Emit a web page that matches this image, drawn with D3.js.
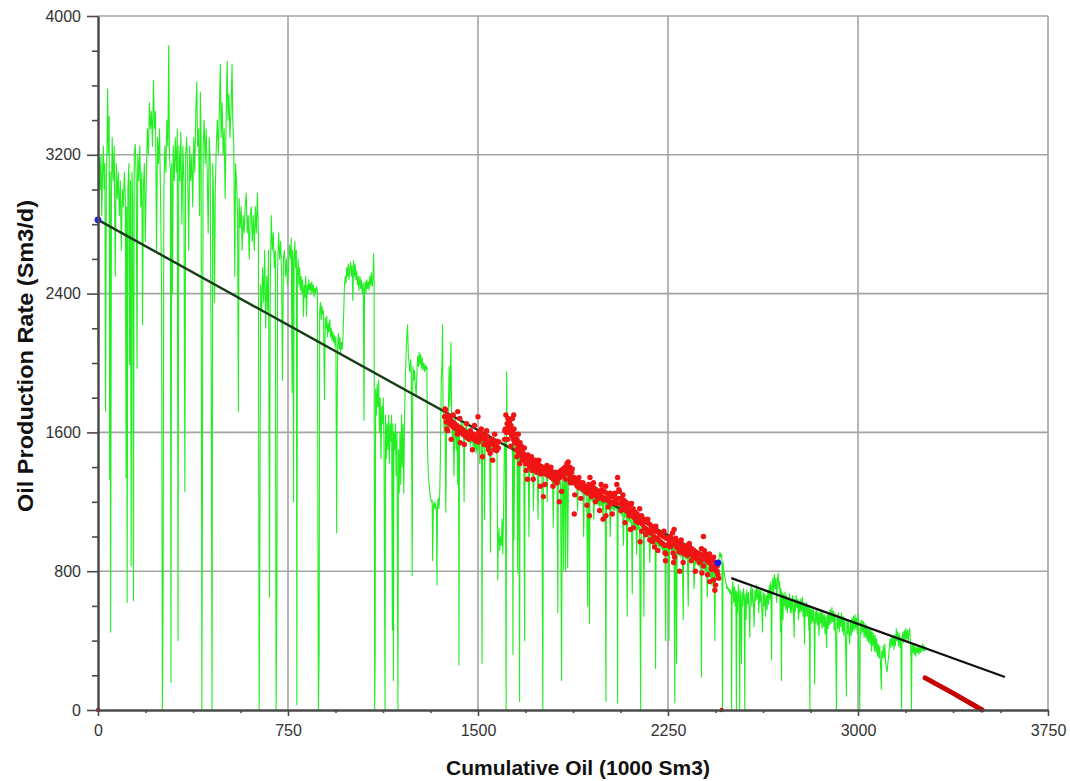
<!DOCTYPE html>
<html>
<head>
<meta charset="utf-8">
<script src="https://cdn.jsdelivr.net/npm/d3@7"></script>
<style>
  body { margin: 0; background: #ffffff; }
  svg { display: block; font-family: "Liberation Sans", Arial, sans-serif; }
</style>
</head>
<body>
<svg id="chart" width="1070" height="781"></svg>
<script>
// ---- axis ticks ----
const xTicks = [0, 750, 1500, 2250, 3000, 3750];
const yTicks = [0, 800, 1600, 2400, 3200, 4000];
const xTitle = "Cumulative Oil (1000 Sm3)";
const yTitle = "Oil Production Rate (Sm3/d)";

// ---- production history: [cumulative oil (1000 Sm3), oil rate (Sm3/d)] ----
const historyEarly = [
  [0,2100],[3,2950],[6,3180],[9,3000],[12,3200],[15,2850],[18,3100],[21,3250],[24,3000],[27,3150],[30,1720],[33,3050],[36,3300],[38,3580],[41,3200],[44,3420],[46,1330],[48,3100],[50,450],[53,2950],[56,3300],[60,3050],[64,3250],[68,2500],[72,3150],[76,2950],[80,3100],[84,2850],[88,3050],[92,2650],[96,3000],[100,2900],[104,3100],[108,2950],[111,1340],[113,2900],[115,620],[118,3000],[122,3150],[125,1990],[128,3050],[131,830],[134,3100],[137,2950],[140,630],[143,3200],[147,3260],[151,3050],[154,1970],[157,3200],[161,3050],[165,3250],[169,2900],[173,3100],[176,2220],[179,3000],[183,3150],[187,2700],[191,3100],[195,3350],[199,3200],[203,3500],[207,3350],[211,3450],[215,3250],[219,3630],[223,3350],[227,3450],[231,2650],[235,3300],[239,3150],[243,3350],[247,2950],[251,2420],[254,0],[257,690],[260,3000],[264,3250],[268,3100],[272,3400],[276,3250],[279,3830],[282,3200],[286,3100],[288,160],[291,3150],[294,2400],[297,3250],[301,3050],[305,3300],[309,3100],[313,3350],[316,400],[319,3250],[323,3050],[327,3330],[331,2800],[335,3250],[339,3050],[343,1260],[346,3200],[350,3300],[354,3100],[358,2650],[362,3250],[366,3050],[370,3200],[374,2900],[378,3300],[382,3100],[386,3450],[390,3620],[393,3250],[397,3350],[401,2850],[404,3560],[407,3300],[410,0],[412,1130],[415,3250],[419,3400],[423,3150],[427,3350],[431,3100],[435,2750],[439,3300],[443,3150],[447,1840],[450,0],[453,3150],[457,2900],[460,2350],[463,3000],[467,3250],[471,3400],[475,3200],[479,3450],[483,3720],[486,3300],[490,3500],[494,3200],[498,3350],[502,2950],[506,3420],[510,3740],[513,3400],[517,3550],[521,3300],[525,3450],[529,3720],[532,3400],[536,3250],[540,2500],[543,3150],[547,3050],[551,2850],[554,1720],[557,2950],[561,2780],[565,2900],[569,2650],[573,2850],[577,2750],[581,2900],[585,2980],[589,2750],[593,2850],[597,2600],[601,2850],[605,2900],[609,2700],[613,2850],[617,2650],[621,2900],[625,2750],[629,2980],[633,2750],[636,0],[639,970],[642,2450],[646,2300],[650,2550],[654,2350],[658,2650],[662,2200],[666,2500],[670,2300],[673,2650],[677,650],[680,2450],[684,2850],[688,2650],[692,2750],[696,2550],[700,2650],[703,0],[706,650],[709,2550],[713,2750],[717,2600],[721,2700],[725,2500],[728,1900],[732,2600],[736,2650],[740,2500],[744,2600],[748,2450]
];
const historyMid = [
  [752,2550],[756,2680],[760,2600],[763,2720],[766,1830],[768,2650],[770,2560],[772,1200],[774,2600],[777,2700],[780,2550],[783,2650],[785,30],[787,2500],[790,2600],[793,2450],[796,2550],[799,2420],[802,2500],[805,2400],[808,2480],[811,2270],[814,2450],[817,2380],[820,2500],[823,2270],[826,2450],[829,2400],[832,2480],[835,2420],[838,2460],[841,2400],[844,2470],[847,2410],[850,2450],[853,2380],[856,2430],[859,2400],[862,2440],[866,2420],[870,0],[873,340],[875,2300],[878,2350],[881,2250],[884,2330],[887,2280],[890,2300],[894,1790],[897,2260],[900,2200],[903,2270],[906,2150],[909,2230],[912,2180],[915,2250],[918,2150],[921,2200],[924,2130],[927,2180],[930,2120],[933,2160],[936,2100],[939,2150],[942,1020],[944,1710],[946,2100],[949,2170],[952,2080],[955,2150],[958,2060],[961,2120],[964,2080],[967,2150],[970,2300],[973,2450],[976,2500],[979,2460],[982,2550],[985,2500],[988,2570],[991,2480],[994,2540],[997,2580],[1000,2500],[1003,2560],[1006,2360],[1009,2590],[1012,2500],[1015,2570],[1018,2480],[1021,2530],[1024,2450],[1027,2500],[1030,2420],[1034,2500],[1037,2430],[1040,2480],[1043,2400],[1047,2460],[1050,1670],[1052,2420],[1055,2470],[1058,2400],[1061,2480],[1064,2430],[1067,2470],[1070,2420],[1073,2500],[1076,2450],[1079,2520],[1082,2440],[1085,2480],[1088,2630],[1090,2450],[1092,0],[1094,300],[1096,1850],[1099,1700],[1102,1880],[1105,1750],[1108,1900],[1111,1600],[1114,1800],[1117,1450],[1120,1750],[1123,1650],[1126,1800],[1129,1550],[1133,0],[1135,1700],[1138,1450],[1141,1650],[1144,1500],[1147,1700],[1150,1420],[1153,1650],[1156,1550],[1159,1700],[1162,460],[1164,1650],[1166,170],[1168,1600],[1171,1500],[1174,1650],[1177,1350],[1180,1600],[1184,0],[1186,1500],[1189,1250],[1192,1600],[1195,1300],[1198,1700],[1201,1400],[1204,1650],[1207,1250],[1210,1700],[1213,1900],[1216,2050],[1219,2150],[1222,2220],[1225,2050],[1228,2000],[1231,1950],[1234,2020],[1237,1940],[1240,775],[1243,1980],[1246,1900],[1249,1960],[1252,1880],[1256,1810],[1259,1950],[1262,2040],[1265,1980],[1268,2060],[1271,1990],[1274,2050],[1277,1970],[1280,2030],[1283,1960],[1286,2000],[1289,1950],[1292,1990],[1295,1960],[1298,1980],[1301,1500],[1304,1350],[1307,1300],[1310,1250],[1313,1220],[1316,1200],[1319,1210],[1321,860],[1324,1180],[1327,1200],[1330,1160],[1333,1190],[1336,1150],[1338,720],[1340,1180],[1343,1220],[1346,1160],[1349,1250],[1352,1500],[1355,1900],[1358,2000],[1360,2220],[1362,1750],[1364,1700],[1367,1600],[1370,1680],[1373,1140],[1376,1650],[1379,1700],[1382,1620],[1386,1980],[1389,1750],[1393,2120],[1396,1700],[1399,1550],[1402,1680],[1405,1350],[1408,1600],[1411,1680],[1414,1500],[1417,1650],[1420,1300],[1423,1650],[1425,260],[1427,1640],[1430,1600],[1433,1660],[1436,1580],[1440,1650],[1443,1600],[1445,1200],[1448,1630],[1451,1580],[1454,1640],[1457,1560],[1460,1620],[1463,1550],[1466,1600],[1469,1520],[1472,1590],[1475,1540],[1478,1600],[1481,1520],[1484,1580],[1487,1500],[1490,1560],[1493,1480],[1496,1550],[1499,1500]
];
const historyFit = [
  [1502,1610],[1505,1570],[1507,1420],[1509,1600],[1512,1560],[1514,1610],[1516,270],[1518,1580],[1521,1540],[1524,1590],[1526,1100],[1528,1560],[1531,1520],[1534,1570],[1537,1530],[1540,1560],[1543,1510],[1546,1550],[1549,910],[1551,1540],[1554,1500],[1557,1550],[1560,1510],[1563,1540],[1566,1490],[1569,1530],[1572,1480],[1575,1510],[1578,750],[1580,950],[1583,1050],[1586,920],[1589,1000],[1592,950],[1595,1100],[1598,900],[1601,1150],[1604,1500],[1606,1580],[1608,1540],[1611,0],[1613,1950],[1615,1650],[1618,1620],[1621,1670],[1624,1600],[1627,1640],[1630,1580],[1633,1620],[1636,1560],[1638,320],[1640,1560],[1642,980],[1645,1540],[1648,1580],[1651,1520],[1654,1560],[1657,790],[1659,1510],[1662,1480],[1664,50],[1666,1500],[1669,1470],[1672,1490],[1675,1450],[1678,1480],[1681,1440],[1684,400],[1686,1460],[1689,1430],[1692,1470],[1695,1420],[1698,1450],[1701,1000],[1704,1440],[1707,1410],[1710,1450],[1713,1400],[1716,1430],[1719,1150],[1722,1420],[1725,1390],[1728,1430],[1731,1380],[1734,1420],[1737,1100],[1740,1410],[1743,1370],[1746,1410],[1749,1360],[1752,1400],[1756,0],[1758,1390],[1761,1350],[1764,1400],[1767,1340],[1770,1390],[1773,1200],[1776,1380],[1779,1340],[1782,1390],[1785,1330],[1788,1370],[1791,1320],[1794,1360],[1797,1050],[1800,1350],[1803,1320],[1806,1360],[1809,1310],[1812,1350],[1815,560],[1817,1340],[1820,1300],[1823,1350],[1826,1290],[1830,170],[1832,1330],[1835,1300],[1838,810],[1840,1340],[1843,1380],[1846,800],[1848,1360],[1851,1400],[1854,820],[1857,1380],[1860,1420],[1863,1350],[1866,1390],[1869,1320],[1872,1360],[1875,1300],[1878,1340],[1881,1290],[1884,1330],[1887,1280],[1890,1320],[1893,1150],[1896,1310],[1899,1270],[1902,1310],[1905,1260],[1908,1300],[1911,1250],[1914,1290],[1917,1000],[1920,1280],[1923,1240],[1926,1280],[1929,1230],[1933,600],[1935,1270],[1938,1220],[1940,500],[1942,1260],[1945,1210],[1948,1250],[1951,1200],[1954,1250],[1957,1100],[1960,1240],[1963,1200],[1966,1240],[1969,1190],[1972,1230],[1975,1180],[1978,1220],[1981,1170],[1984,1210],[1987,1180],[1990,1230],[1993,1100],[1996,1220],[1999,1190],[2002,1230],[2005,50],[2007,1220],[2010,1180],[2013,1230],[2016,1170],[2019,1210],[2022,1000],[2025,1210],[2028,1160],[2031,1200],[2034,1150],[2037,1190],[2040,1150],[2043,1220],[2046,1160],[2049,1250],[2051,40],[2053,1180],[2056,1140],[2059,1190],[2062,1130],[2065,1170],[2068,1120],[2071,1160],[2074,950],[2077,1150],[2080,1110],[2083,1150],[2086,1100],[2089,540],[2091,1140],[2094,1090],[2097,1130],[2100,1080],[2103,1120],[2106,1070],[2109,670],[2111,1110],[2114,1060],[2117,1100],[2120,1050],[2123,1090],[2126,900],[2129,1080],[2132,1040],[2135,1080],[2138,1030],[2142,0],[2144,1070],[2147,1030],[2150,1070],[2153,1020],[2155,540],[2157,1060],[2160,1010],[2163,1050],[2166,1000],[2169,1040],[2172,990],[2175,1030],[2178,850],[2181,1020],[2184,980],[2187,1020],[2190,970],[2193,1010],[2196,960],[2199,1000],[2201,240],[2203,990],[2206,950],[2209,990],[2212,940],[2214,980],[2217,940],[2220,980],[2223,930],[2226,970],[2229,920],[2232,960],[2235,910],[2238,950],[2241,400],[2243,950],[2246,910],[2249,950],
  [2252,970],[2254,400],[2256,960],[2259,930],[2262,970],[2265,920],[2268,960],[2271,910],[2274,950],[2277,40],[2279,950],[2282,900],[2284,270],[2286,940],[2289,900],[2292,940],[2295,890],[2298,930],[2301,880],[2304,930],[2307,880],[2310,520],[2312,920],[2315,880],[2318,920],[2321,870],[2324,910],[2327,860],[2330,600],[2332,900],[2335,860],[2338,910],[2341,860],[2344,900],[2347,850],[2350,890],[2353,700],[2356,880],[2359,840],[2362,890],[2365,840],[2368,880],[2371,830],[2374,870],[2377,820],[2380,860],[2382,190],[2384,860],[2387,820],[2390,870],[2393,810],[2396,860],[2399,800],[2402,850],[2405,650],[2408,840],[2411,790],[2414,830],[2417,760],[2420,820],[2423,720],[2426,800],[2429,700],[2432,820],[2435,400],[2437,820],[2440,850],[2443,830],[2446,860],[2449,850],[2452,880],[2455,910],[2458,880],[2461,900],[2463,860],[2465,0],[2467,850],[2470,800],[2473,780],[2476,750],[2479,730],[2482,700],[2485,710],[2488,690],[2491,700],[2494,670],[2497,690],[2500,660]
];
const historyLate = [
  [2501,0],[2503,690],[2506,740],[2509,620],[2512,710],[2515,600],[2518,690],[2520,0],[2522,680],[2525,560],[2528,720],[2531,640],[2533,0],[2535,690],[2538,610],[2540,270],[2542,680],[2545,600],[2548,700],[2551,630],[2553,0],[2555,670],[2558,520],[2561,690],[2564,610],[2567,680],[2570,590],[2573,420],[2575,660],[2578,720],[2581,600],[2584,700],[2587,620],[2590,480],[2593,690],[2596,630],[2599,720],[2602,640],[2605,700],[2608,560],[2611,690],[2614,620],[2617,700],[2620,600],[2623,450],[2626,680],[2629,600],[2632,670],[2635,540],[2638,660],[2641,580],[2644,690],[2647,610],[2650,720],[2653,640],[2656,740],[2659,290],[2661,700],[2664,760],[2667,680],[2670,780],[2673,700],[2676,760],[2679,620],[2682,750],[2685,790],[2688,700],[2691,740],[2694,450],[2696,700],[2698,170],[2700,680],[2702,620],[2704,520],[2706,670],[2709,600],[2712,680],[2715,580],[2718,660],[2721,560],[2724,650],[2727,590],[2730,670],[2733,560],[2736,640],[2739,560],[2742,660],[2745,590],[2748,420],[2750,640],[2753,570],[2756,660],[2759,590],[2762,640],[2765,520],[2768,630],[2771,560],[2774,640],[2777,570],[2780,650],[2783,540],[2786,620],[2789,380],[2791,610],[2794,540],[2797,620],[2800,540],[2803,600],[2806,460],[2808,590],[2810,0],[2812,580],[2815,500],[2818,590],[2821,510],[2824,580],[2827,480],[2829,150],[2831,570],[2834,500],[2837,580],[2840,490],[2843,560],[2846,430],[2849,560],[2852,500],[2855,580],[2858,470],[2861,560],[2864,480],[2867,550],[2870,440],[2873,540],[2876,360],[2879,550],[2882,470],[2885,560],[2888,490],[2891,580],[2894,500],[2897,590],[2900,510],[2903,570],[2906,460],[2909,560],[2912,400],[2915,0],[2917,550],[2920,470],[2923,560],[2926,450],[2929,540],[2932,480],[2935,560],[2938,450],[2941,540],[2944,430],[2947,530],[2950,440],[2952,300],[2954,80],[2956,520],[2959,440],[2962,520],[2965,420],[2967,380],[2970,510],[2973,430],[2976,530],[2979,450],[2982,540],[2985,460],[2988,550],[2991,470],[2994,530],[2997,440],[3000,550],[3003,430],[3007,0],[3009,510],[3012,440],[3015,520],[3018,450],[3021,510],[3024,420],[3027,500],[3030,420],[3033,490],[3036,400],[3039,480],[3042,390],[3045,470],[3048,380],[3051,470],[3053,340],[3056,450],[3059,370],[3062,440],[3065,340],[3068,430],[3071,330],[3074,410],[3077,310],[3080,380],[3083,300],[3086,370],[3089,260],[3092,120],[3094,340],[3097,300],[3100,370],[3103,300],[3106,380],[3109,280],[3112,240],[3115,220],[3118,270],[3121,310],[3124,370],[3127,410],[3130,360],[3133,430],[3136,370],[3139,420],[3142,350],[3145,430],[3148,370],[3151,470],[3154,400],[3157,450],[3160,370],[3163,440],[3166,360],[3169,420],[3172,10],[3174,410],[3177,450],[3180,390],[3183,460],[3186,400],[3189,470],[3192,410],[3195,460],[3198,390],[3201,450],[3204,470],[3207,400],[3209,300],[3211,0],[3213,380],[3216,330],[3219,380],[3222,320],[3225,370],[3228,310],[3231,360],[3234,330],[3237,370],[3240,320],[3243,360],[3246,330],[3249,370],[3252,340],[3255,380],[3258,340],[3261,370],[3264,340],[3268,360],[3271,350]
];

// ---- points selected for the decline fit ----
const fitPoints = [
  [1368,1690],[1372,1730],[1375,1660],[1378,1700],[1380,1610],[1384,1680],[1388,1650],[1392,1670],[1396,1640],[1400,1660],[1404,1630],[1408,1650],[1412,1620],[1416,1640],[1420,1720],[1423,1610],[1426,1630],[1430,1540],[1433,1600],[1436,1620],[1440,1590],[1444,1610],[1448,1580],[1452,1600],[1456,1570],[1460,1590],[1464,1560],[1468,1580],[1472,1600],[1476,1570],[1480,1590],[1484,1560],[1488,1580],[1492,1550],[1496,1570],[1500,1690],[1503,1600],[1506,1580],[1510,1560],[1513,1620],[1516,1590],[1520,1570],[1524,1530],[1528,1560],[1532,1540],[1536,1580],[1540,1520],[1544,1550],[1548,1480],[1552,1540],[1556,1560],[1560,1530],[1564,1500],[1568,1540],[1572,1520],[1576,1550],[1580,1510],
  [1605,1560],[1608,1620],[1612,1600],[1615,1650],[1618,1680],[1621,1620],[1624,1660],[1627,1600],[1630,1640],[1633,1580],[1636,1680],[1639,1560],[1642,1620],[1645,1540],[1648,1590],[1651,1500],[1654,1560],[1657,1530],[1660,1480],[1663,1510],[1666,1540],[1669,1470],[1672,1500],[1675,1440],[1678,1480],[1681,1450],[1685,1470],[1688,1420],[1692,1460],[1695,1330],[1698,1440],[1702,1410],[1706,1450],[1710,1420],[1714,1380],[1718,1430],[1722,1400],[1726,1440],[1730,1390],[1734,1420],[1738,1380],[1742,1410],[1746,1290],[1750,1400],[1754,1370],[1758,1230],[1762,1390],[1766,1360],[1770,1400],
  [1774,1370],[1778,1390],[1782,1350],[1786,1380],[1790,1340],[1794,1370],[1798,1330],[1802,1360],[1806,1320],[1810,1350],[1814,1330],[1818,1370],[1821,1200],[1824,1340],[1828,1380],[1832,1350],[1836,1390],[1840,1360],[1844,1400],[1848,1370],[1851,1420],[1854,1390],[1858,1360],[1862,1400],[1866,1340],[1870,1370],[1874,1310],[1878,1340],[1880,1130],[1884,1310],[1888,1330],[1892,1290],[1896,1320],[1900,1280],
  [1904,1310],[1908,1280],[1912,1300],[1916,1270],[1920,1290],[1924,1260],[1928,1290],[1932,1250],[1936,1280],[1940,1120],[1942,1340],[1946,1260],[1950,1290],[1954,1250],[1958,1280],[1962,1240],[1966,1270],[1970,1230],[1974,1260],[1978,1220],[1982,1250],[1986,1300],[1990,1230],[1994,1100],[1998,1260],[2002,1220],[2005,1120],[2008,1250],[2012,1210],[2016,1240],[2020,1200],[2024,1230],[2028,1190],[2032,1230],[2036,1200],[2040,1250],[2044,1210],[2048,1300],[2051,1340],[2054,1220],[2058,1260],[2062,1190],
  [2066,1220],[2070,1180],[2074,1210],[2078,1160],[2082,1200],[2086,1150],[2090,1190],[2094,1140],[2098,1180],[2102,1040],[2104,1150],[2108,1120],[2112,1160],[2116,1110],[2120,1140],[2124,1090],[2128,1130],[2132,1080],[2136,1110],[2140,970],[2142,1080],[2146,1120],[2150,1070],[2154,1100],[2158,1050],[2162,1090],[2166,1040],[2170,1080],[2174,1030],[2178,1070],[2182,1020],[2186,1060],[2190,970],[2194,1040],[2197,940],[2200,1030],[2204,990],[2208,1030],[2212,980],[2216,1020],[2220,970],[2224,1010],[2228,960],[2232,1000],[2236,950],[2238,905],[2240,860],[2243,990],[2246,950],
  [2250,990],[2254,960],[2258,1000],[2262,950],[2266,980],[2270,905],[2272,850],[2274,1040],[2277,960],[2280,990],[2284,940],[2288,970],[2292,930],[2296,800],[2299,960],[2303,920],[2307,950],[2309,905],[2312,930],[2316,900],[2320,940],[2324,910],[2328,950],[2332,920],[2336,940],[2340,900],[2344,930],[2348,890],[2352,920],[2356,880],[2360,910],[2364,870],[2368,900],[2372,870],[2376,900],[2380,860],[2384,790],[2386,890],[2390,1000],[2393,920],[2396,880],[2400,900],[2404,860],[2408,890],[2412,850],[2415,740],[2418,870],[2422,830],[2426,860],[2430,750],[2432,820],[2435,690],[2438,840],[2441,800],[2444,830],[2447,780]
];
const fitPointsSpread = [
  [1370,1735],[1377,1620],[1386,1690],[1394,1560],[1402,1700],[1410,1640],[1418,1590],[1428,1680],[1438,1610],[1446,1530],[1455,1650],[1462,1575],[1470,1610],[1478,1500],[1486,1640],[1494,1585],[1502,1545],[1511,1600],[1518,1460],[1526,1575],[1534,1610],[1542,1500],[1550,1555],[1558,1440],[1566,1590],[1574,1495],[1582,1545],
  [1606,1610],[1610,1700],[1617,1560],[1623,1640],[1629,1520],[1635,1610],[1641,1700],[1647,1560],[1653,1460],[1659,1590],[1665,1420],[1671,1520],[1677,1460],[1683,1510],[1690,1380],[1697,1470],[1704,1400],[1711,1460],[1718,1330],[1725,1430],[1732,1370],[1740,1440],[1748,1360],[1756,1400],[1764,1300],[1772,1410],[1780,1350],[1788,1400],[1796,1290],[1804,1370],[1812,1310],[1820,1360],[1830,1260],[1838,1390],[1846,1330],[1856,1430],[1864,1310],[1872,1390],[1882,1240],[1890,1300],[1898,1340],[1906,1220],[1914,1310],[1922,1270],[1930,1180],[1938,1300],[1948,1230],[1956,1310],[1964,1200],[1972,1260],[1980,1150],[1988,1270],[1996,1210],[2004,1290],[2014,1170],[2022,1250],[2030,1130],[2038,1240],[2046,1190],[2056,1270],[2064,1150],[2072,1240],[2080,1080],[2088,1170],[2096,1120],[2106,1190],[2114,1050],[2122,1130],[2130,1090],[2138,1160],[2146,1030],[2154,1090],[2162,1010],[2170,1100],[2178,980],[2186,1050],[2194,1000],[2202,1060],[2210,920],[2218,1010],[2226,960],[2234,1030],[2242,900],[2252,990],[2260,940],[2268,1020],[2276,880],[2286,960],[2294,910],[2302,980],[2310,850],[2318,930],[2326,890],[2334,960],[2342,860],[2350,920],[2358,800],[2366,900],[2374,850],[2382,930],[2390,830],[2398,870],[2406,780],[2414,900],[2422,810],[2430,880],[2438,720],[2444,800],[2450,760]
];
const zeroRatePoints = [[0,0],[2462,0]];

// ---- decline lines and forecast ----
const fitLine = [[0,2825],[2447,848]];
const trendLine = [[2500,760],[3580,190]];
const forecast = [[3265,185],[3380,93],[3490,0]];
const anchorPoints = [[0,2825],[2447,848]];

const history = historyEarly.concat(historyMid, historyFit, historyLate);
const selected = fitPoints.concat(fitPointsSpread);

// ---- layout ----
const W = 1070, H = 781;
const margin = { left: 98, right: 22, top: 16, bottom: 71 };
const svg = d3.select("#chart");

const x = d3.scaleLinear().domain([0, 3750]).range([margin.left, W - margin.right]);
const y = d3.scaleLinear().domain([0, 4000]).range([H - margin.bottom, margin.top]);

const xMinor = d3.range(0, 3750.1, 187.5).filter(v => !xTicks.includes(v));
const yMinor = d3.range(0, 4000.1, 200).filter(v => !yTicks.includes(v));

// grid
const grid = svg.append("g").attr("stroke", "#a3a3a3").attr("stroke-width", 1.6);
grid.selectAll(".gx").data(xTicks.slice(1)).join("line")
  .attr("x1", d => x(d)).attr("x2", d => x(d))
  .attr("y1", y(0)).attr("y2", y(4000));
grid.selectAll(".gy").data(yTicks.slice(1)).join("line")
  .attr("x1", x(0)).attr("x2", x(3750))
  .attr("y1", d => y(d)).attr("y2", d => y(d));

// production history
const line = d3.line().x(d => x(d[0])).y(d => y(d[1]));
svg.append("path").datum(history)
  .attr("fill", "none").attr("stroke", "#22ee22")
  .attr("stroke-width", 1.1).attr("stroke-linejoin", "round")
  .attr("d", line);

// fitted decline lines
svg.append("path").datum(fitLine)
  .attr("fill", "none").attr("stroke", "#173d17").attr("stroke-width", 2.4)
  .attr("d", line);
svg.append("path").datum(trendLine)
  .attr("fill", "none").attr("stroke", "#111111").attr("stroke-width", 2.2)
  .attr("d", line);

// fit points
svg.append("g").selectAll("circle").data(selected).join("circle")
  .attr("cx", d => x(d[0])).attr("cy", d => y(d[1])).attr("r", 2.7)
  .attr("fill", "#f01414");
svg.append("g").selectAll("circle").data(zeroRatePoints).join("circle")
  .attr("cx", d => x(d[0])).attr("cy", d => y(d[1])).attr("r", 2.2)
  .attr("fill", "#e01010");

// forecast
svg.append("path").datum(forecast)
  .attr("fill", "none").attr("stroke", "#c40000").attr("stroke-width", 5)
  .attr("stroke-linecap", "round").attr("d", line);

// anchor points
svg.append("g").selectAll("circle").data(anchorPoints).join("circle")
  .attr("cx", d => x(d[0])).attr("cy", d => y(d[1])).attr("r", 3.4)
  .attr("fill", "#1a1aee");

// axes
const axisColor = "#4a4a4a";
function styleAxis(g) {
  g.select(".domain").attr("stroke", axisColor).attr("stroke-width", 2);
  g.selectAll(".tick line").attr("stroke", axisColor).attr("stroke-width", 1.6);
  g.selectAll(".tick text").attr("fill", "#333333")
    .style("font-size", "16px").style("font-family", '"Liberation Sans", Arial, sans-serif');
}

svg.append("g").attr("transform", `translate(0,${y(0)})`)
  .call(d3.axisBottom(x).tickValues(xMinor).tickSize(3).tickFormat("").tickSizeOuter(0))
  .call(styleAxis);
svg.append("g").attr("transform", `translate(0,${y(0)})`)
  .call(d3.axisBottom(x).tickValues(xTicks).tickSize(6).tickPadding(9).tickSizeOuter(0).tickFormat(d3.format("d")))
  .call(styleAxis);

svg.append("g").attr("transform", `translate(${x(0)},0)`)
  .call(d3.axisLeft(y).tickValues(yMinor).tickSize(6).tickFormat("").tickSizeOuter(0))
  .call(styleAxis);
svg.append("g").attr("transform", `translate(${x(0)},0)`)
  .call(d3.axisLeft(y).tickValues(yTicks).tickSize(11).tickPadding(6).tickSizeOuter(0).tickFormat(d3.format("d")))
  .call(styleAxis);

// axis titles
svg.append("text")
  .attr("x", 578).attr("y", 775)
  .attr("text-anchor", "middle")
  .style("font-size", "21px").style("font-weight", "bold").attr("fill", "#111")
  .text(xTitle);

svg.append("text")
  .attr("transform", "translate(25,356) rotate(-90)")
  .attr("text-anchor", "middle").attr("dominant-baseline", "central")
  .attr("textLength", 312).attr("lengthAdjust", "spacingAndGlyphs")
  .style("font-size", "22px").style("font-weight", "bold").attr("fill", "#111")
  .text(yTitle);
</script>
</body>
</html>
